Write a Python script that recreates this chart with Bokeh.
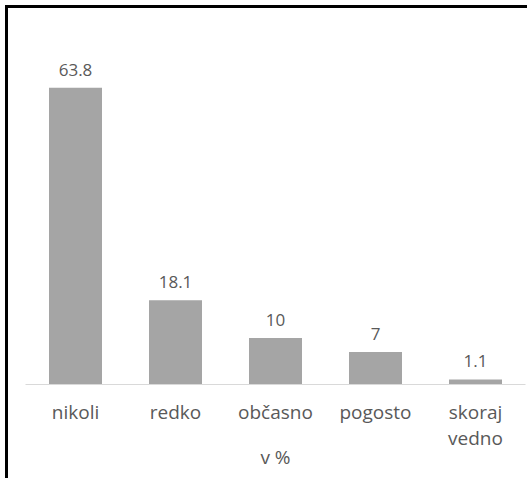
from bokeh.plotting import figure
from bokeh.models import Range1d, ColumnDataSource, InlineStyleSheet, FixedTicker
from bokeh.core.properties import value
from bokeh.embed import file_html
from bokeh.resources import INLINE

categories = ["nikoli", "redko", "občasno", "pogosto", "skoraj vedno"]
values = [63.8, 18.1, 10, 7, 1.1]
value_labels = ["63.8", "18.1", "10", "7", "1.1"]
axis_title = "v %"

FONT = "Open Sans"
GREY = "#595959"

positions = list(range(len(categories)))
src = ColumnDataSource(dict(x=positions, val=values, lab=value_labels))

border_css = InlineStyleSheet(css=":host { border-left: 3px solid black; border-top: 3px solid black; margin-left: 5px; margin-top: 5px; }")

p = figure(x_range=Range1d(-0.5, len(categories) - 0.5), y_range=Range1d(0, 78.7),
           width=522, height=473, output_backend="svg", toolbar_location=None,
           min_border_left=17, min_border_right=5, min_border_top=10, min_border_bottom=97,
           stylesheets=[border_css])

p.vbar(x="x", top="val", width=0.53, source=src, fill_color="#a5a5a5", line_color=None)
p.text(x="x", y="val", text="lab", source=src, text_align="center",
       text_baseline="alphabetic", y_offset=-18, text_font=value(FONT),
       text_font_size="17px", text_color=GREY)

p.outline_line_color = None
p.grid.grid_line_color = None
p.yaxis.visible = False
xa = p.xaxis[0]
xa.ticker = FixedTicker(ticks=positions)
xa.major_label_overrides = {i: c.replace(" ", "\n") for i, c in zip(positions, categories)}
xa.axis_line_color = "#d9d9d9"
xa.axis_line_width = 1
xa.major_tick_line_color = None
xa.minor_tick_line_color = None
xa.major_label_text_font = FONT
xa.major_label_text_font_size = "19px"
xa.major_label_text_color = GREY
xa.major_label_text_line_height = 1.0
xa.major_label_standoff = 8
xa.axis_label = axis_title
xa.axis_label_text_font = FONT
xa.axis_label_text_font_size = "19px"
xa.axis_label_text_font_style = "normal"
xa.axis_label_text_color = GREY
xa.axis_label_standoff = -10

open("out.html", "w").write(file_html(p, INLINE))
